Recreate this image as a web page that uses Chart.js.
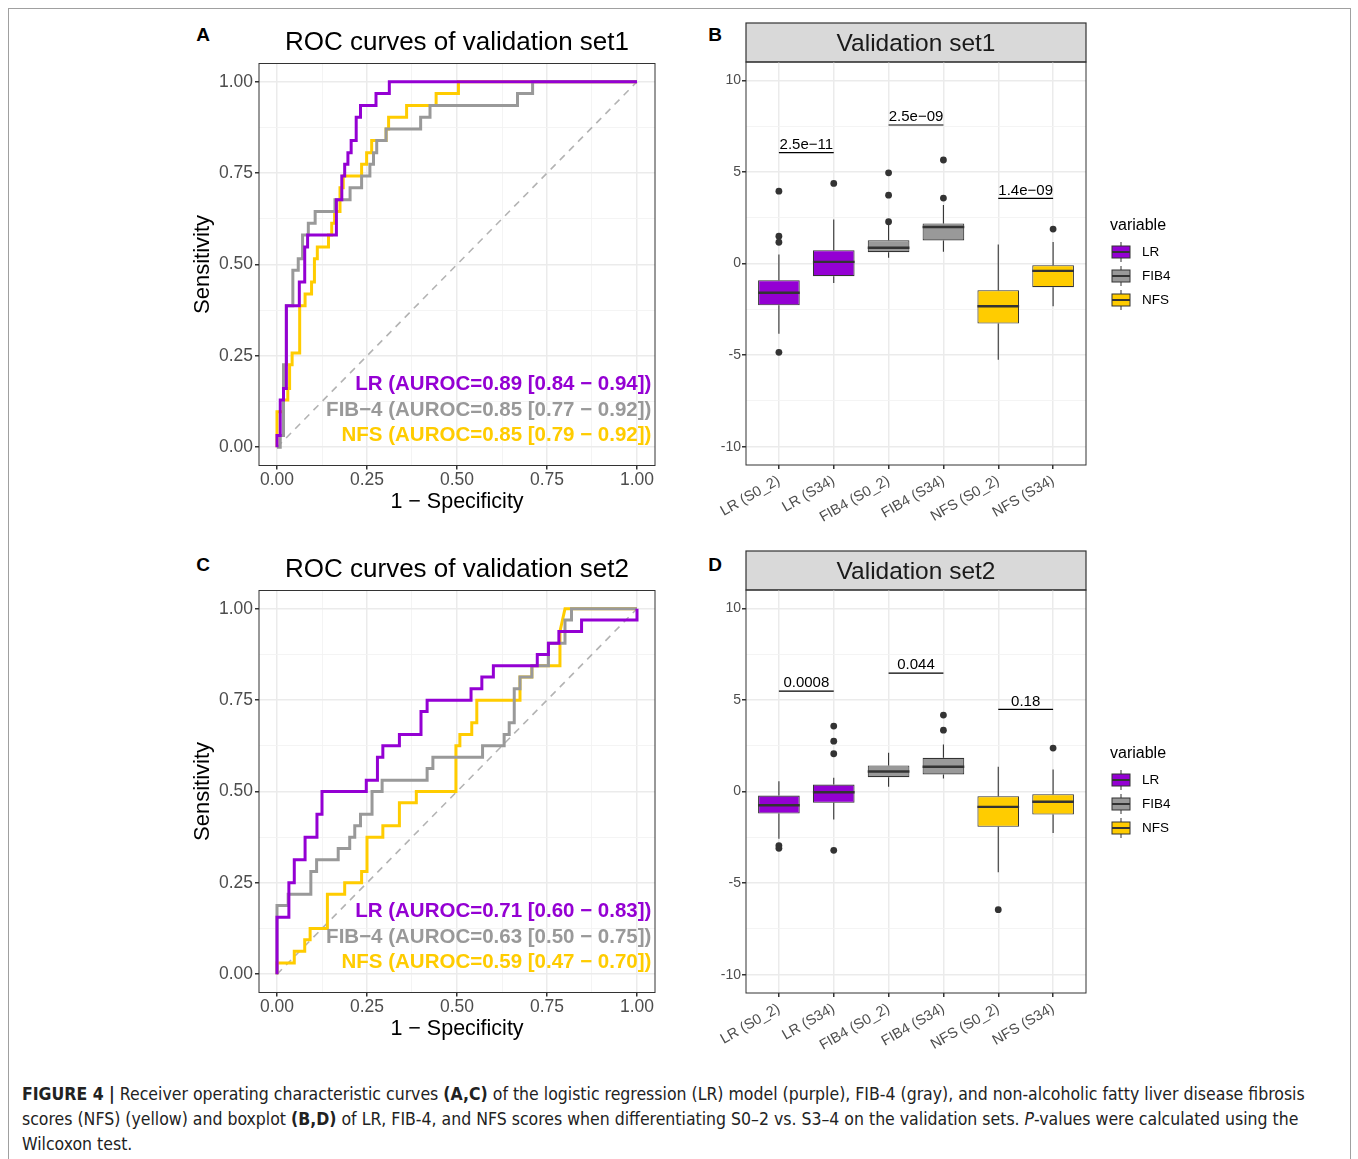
<!DOCTYPE html>
<html>
<head>
<meta charset="utf-8">
<script src="https://cdn.jsdelivr.net/npm/chart.js@4.4.1/dist/chart.umd.min.js"></script>
<style>
body { margin: 0; background: #fff; font-family: 'Liberation Sans', Arial, sans-serif; }
#page { position: relative; width: 1358px; height: 1159px; overflow: hidden; background: #fff; }
#frame { position: absolute; left: 8px; top: 8px; width: 1341px; height: 1220px; border: 1px solid #a0a0a0; }
canvas { position: absolute; }
.tag { position: absolute; font-weight: bold; font-size: 19px; width: 20px; text-align: center; line-height: 20px; }
#caption { position: absolute; left: 22px; top: 1082px; font-family: 'Liberation Sans Narrow', 'DejaVu Sans Condensed', sans-serif; font-size: 17.5px; line-height: 25px; color: #222; white-space: nowrap; }
</style>
</head>
<body>
<div id="page">
  <div id="frame"></div>
  <div class="tag" style="left:193px;top:25px">A</div>
  <div class="tag" style="left:705px;top:25px">B</div>
  <div class="tag" style="left:193px;top:555px">C</div>
  <div class="tag" style="left:705px;top:555px">D</div>
  <canvas id="rocA" width="480" height="510" style="left:185px;top:15px"></canvas>
  <canvas id="boxB" width="520" height="525" style="left:690px;top:15px"></canvas>
  <canvas id="rocC" width="480" height="510" style="left:185px;top:542px"></canvas>
  <canvas id="boxD" width="520" height="525" style="left:690px;top:543px"></canvas>
  <div id="caption"><b>FIGURE 4 |</b> Receiver operating characteristic curves <b>(A,C)</b> of the logistic regression (LR) model (purple), FIB-4 (gray), and non-alcoholic fatty liver disease fibrosis<br>scores (NFS) (yellow) and boxplot <b>(B,D)</b> of LR, FIB-4, and NFS scores when differentiating S0–2 vs. S3–4 on the validation sets. <i>P</i>-values were calculated using the<br>Wilcoxon test.</div>
</div>
<script>
// ---- ROC data, validation set1 ----
var lrFpr1 = [0,0,0.009,0.009,0.018,0.018,0.026,0.026,0.062,0.062,0.077,0.077,0.085,0.085,0.165,0.165,0.18,0.18,0.188,0.188,0.197,0.197,0.206,0.206,0.22,0.22,0.232,0.232,0.275,0.275,0.312,0.312,1];
var lrTpr1 = [0,0.032,0.032,0.129,0.129,0.161,0.161,0.387,0.387,0.452,0.452,0.548,0.548,0.581,0.581,0.677,0.677,0.742,0.742,0.774,0.774,0.806,0.806,0.839,0.839,0.903,0.903,0.935,0.935,0.968,0.968,1,1];
var fibFpr1 = [0,0.009,0.009,0.018,0.018,0.026,0.026,0.044,0.044,0.059,0.059,0.071,0.071,0.087,0.087,0.106,0.106,0.161,0.161,0.203,0.203,0.235,0.235,0.258,0.258,0.268,0.268,0.277,0.277,0.303,0.303,0.399,0.399,0.425,0.425,0.668,0.668,0.71,0.71,1];
var fibTpr1 = [0,0,0.032,0.032,0.226,0.226,0.387,0.387,0.484,0.484,0.516,0.516,0.581,0.581,0.613,0.613,0.645,0.645,0.677,0.677,0.71,0.71,0.742,0.742,0.774,0.774,0.806,0.806,0.839,0.839,0.871,0.871,0.903,0.903,0.935,0.935,0.968,0.968,1,1];
var nfsFpr1 = [0,0,0.018,0.018,0.03,0.03,0.035,0.035,0.042,0.042,0.063,0.063,0.078,0.078,0.096,0.096,0.104,0.104,0.112,0.112,0.143,0.143,0.152,0.152,0.16,0.16,0.175,0.175,0.184,0.184,0.235,0.235,0.249,0.249,0.263,0.263,0.303,0.303,0.31,0.31,0.36,0.36,0.442,0.442,0.504,0.504,1];
var nfsTpr1 = [0,0.097,0.097,0.129,0.129,0.161,0.161,0.226,0.226,0.258,0.258,0.387,0.387,0.419,0.419,0.452,0.452,0.516,0.516,0.548,0.548,0.581,0.581,0.613,0.613,0.645,0.645,0.71,0.71,0.742,0.742,0.774,0.774,0.806,0.806,0.839,0.839,0.871,0.871,0.903,0.903,0.935,0.935,0.968,0.968,1,1];
var aurocText1 = ['LR (AUROC=0.89 [0.84 − 0.94])', 'FIB−4 (AUROC=0.85 [0.77 − 0.92])', 'NFS (AUROC=0.85 [0.79 − 0.92])'];

// ---- ROC data, validation set2 ----
var lrFpr2 = [0,0,0.033,0.033,0.048,0.048,0.078,0.078,0.111,0.111,0.125,0.125,0.248,0.248,0.279,0.279,0.294,0.294,0.34,0.34,0.4,0.4,0.417,0.417,0.539,0.539,0.569,0.569,0.601,0.601,0.723,0.723,0.754,0.754,0.783,0.783,0.846,0.846,1,1];
var lrTpr2 = [0,0.156,0.156,0.25,0.25,0.313,0.313,0.375,0.375,0.438,0.438,0.5,0.5,0.531,0.531,0.594,0.594,0.625,0.625,0.656,0.656,0.719,0.719,0.75,0.75,0.781,0.781,0.813,0.813,0.844,0.844,0.875,0.875,0.906,0.906,0.938,0.938,0.969,0.969,1];
var fibFpr2 = [0,0,0.031,0.031,0.094,0.094,0.11,0.11,0.17,0.17,0.202,0.202,0.216,0.216,0.232,0.232,0.264,0.264,0.292,0.292,0.417,0.417,0.433,0.433,0.571,0.571,0.631,0.631,0.645,0.645,0.659,0.659,0.675,0.675,0.708,0.708,0.754,0.754,0.8,0.8,0.818,0.818,1];
var fibTpr2 = [0,0.188,0.188,0.219,0.219,0.281,0.281,0.313,0.313,0.344,0.344,0.375,0.375,0.406,0.406,0.438,0.438,0.5,0.5,0.531,0.531,0.563,0.563,0.594,0.594,0.625,0.625,0.656,0.656,0.688,0.688,0.781,0.781,0.813,0.813,0.844,0.844,0.906,0.906,0.969,0.969,1,1];
var nfsFpr2 = [0,0,0.048,0.048,0.077,0.077,0.092,0.092,0.14,0.14,0.188,0.188,0.235,0.235,0.25,0.25,0.294,0.294,0.34,0.34,0.387,0.387,0.497,0.497,0.508,0.508,0.541,0.541,0.555,0.555,0.675,0.675,0.708,0.708,0.786,0.786,0.8,1];
var nfsTpr2 = [0,0.031,0.031,0.063,0.063,0.094,0.094,0.125,0.125,0.219,0.219,0.25,0.25,0.281,0.281,0.375,0.375,0.406,0.406,0.469,0.469,0.5,0.5,0.625,0.625,0.656,0.656,0.688,0.688,0.75,0.75,0.813,0.813,0.844,0.844,0.938,1,1];
var aurocText2 = ['LR (AUROC=0.71 [0.60 − 0.83])', 'FIB−4 (AUROC=0.63 [0.50 − 0.75])', 'NFS (AUROC=0.59 [0.47 − 0.70])'];

var rocTicks = [0, 0.125, 0.25, 0.375, 0.5, 0.625, 0.75, 0.875, 1];
var rocTickLabels = ['0.00', '', '0.25', '', '0.50', '', '0.75', '', '1.00'];

// ---- boxplot data ----
var boxCats = ['LR (S0_2)', 'LR (S34)', 'FIB4 (S0_2)', 'FIB4 (S34)', 'NFS (S0_2)', 'NFS (S34)'];
var boxTicks = [-10, -7.5, -5, -2.5, 0, 2.5, 5, 7.5, 10];
var boxTickLabels = ['-10', '', '-5', '', '0', '', '5', '', '10'];
var legendNames = ['LR', 'FIB4', 'NFS'];

var low1 = [-3.84, -1.06, 0.31, 0.64, -5.25, -2.33];
var q1s1 = [-2.28, -0.69, 0.62, 1.26, -3.28, -1.29];
var med1 = [-1.6, 0.09, 0.86, 1.99, -2.33, -0.4];
var q3s1 = [-0.91, 0.73, 1.27, 2.19, -1.46, -0.09];
var high1 = [0.49, 2.4, 2.13, 3.19, 1.04, 1.17];
var out1 = [[3.95, 1.49, 1.16, -4.85], [4.37], [4.95, 3.73, 2.28], [5.65, 3.57], [], [1.88]];
var pLabels1 = ['2.5e−11', '2.5e−09', '1.4e−09'];
var pLineY1 = [6.05, 7.56, 3.55];

var low2 = [-2.58, -1.53, 0.26, 0.71, -4.41, -2.26];
var q1s2 = [-1.2, -0.62, 0.78, 0.93, -1.93, -1.26];
var med2 = [-0.75, -0.04, 1.09, 1.35, -0.84, -0.56];
var q3s2 = [-0.22, 0.38, 1.42, 1.84, -0.26, -0.15];
var high2 = [0.56, 0.75, 2.11, 2.57, 1.35, 1.2];
var out2 = [[-2.95, -3.1], [3.57, 2.75, 2.06, -3.21], [], [4.17, 3.35], [-6.45], [2.37]];
var pLabels2 = ['0.0008', '0.044', '0.18'];
var pLineY2 = [5.48, 6.46, 4.48];
var pPairs = [[0, 1], [2, 3], [4, 5]];

var PURPLE = '#9400D3', GRAY = '#999999', GOLD = '#FFCC00';
var boxColors = [PURPLE, PURPLE, GRAY, GRAY, GOLD, GOLD];

Chart.defaults.font.family = "'Liberation Sans', Arial, sans-serif";

function zip(xs, ys) {
    return xs.map(function (v, i) { return {x: v, y: ys[i]}; });
}

function rocPlugin(texts) {
    return {
        id: 'rocExtras',
        afterDraw: function (chart) {
            var ctx = chart.ctx, a = chart.chartArea;
            var x = chart.scales.x, y = chart.scales.y;
            var cols = [PURPLE, GRAY, GOLD];
            var ys = [0.172, 0.102, 0.033];
            ctx.save();
            ctx.font = "bold 20.5px 'Liberation Sans', Arial, sans-serif";
            ctx.textAlign = 'right';
            ctx.textBaseline = 'middle';
            texts.forEach(function (t, i) {
                ctx.fillStyle = cols[i];
                ctx.fillText(t, x.getPixelForValue(1.04), y.getPixelForValue(ys[i]));
            });
            ctx.strokeStyle = '#333';
            ctx.lineWidth = 1;
            ctx.strokeRect(a.left, a.top, a.right - a.left, a.bottom - a.top);
            ctx.restore();
        }
    };
}

function rocChart(id, title, lr, fib, nfs, texts) {
    var grid = {
        color: function (c) { return c.index % 2 === 0 ? '#ebebeb' : '#f3f3f3'; },
        lineWidth: function (c) { return c.index % 2 === 0 ? 1.5 : 0.9; },
        tickColor: function (c) { return c.index % 2 === 0 ? '#333' : 'rgba(0,0,0,0)'; },
        tickLength: 4
    };
    new Chart(document.getElementById(id), {
        type: 'scatter',
        data: {
            datasets: [
                {data: lr, showLine: true, borderColor: PURPLE, borderWidth: 3, pointRadius: 0},
                {data: fib, showLine: true, borderColor: GRAY, borderWidth: 3, pointRadius: 0},
                {data: nfs, showLine: true, borderColor: GOLD, borderWidth: 3, pointRadius: 0},
                {data: [{x: 0, y: 0}, {x: 1, y: 1}], showLine: true, borderColor: '#b3b3b3', borderWidth: 1.6, borderDash: [7, 6], pointRadius: 0}
            ]
        },
        options: {
            responsive: false,
            animation: false,
            events: [],
            layout: {padding: {right: 10}},
            plugins: {
                legend: {display: false},
                tooltip: {enabled: false},
                title: {display: true, text: title, fullSize: false, color: '#000', font: {size: 26, weight: 'normal'}, padding: {top: 12.4, bottom: 4.9}}
            },
            scales: {
                x: {
                    type: 'linear', min: -0.05, max: 1.05,
                    afterBuildTicks: function (s) { s.ticks = rocTicks.map(function (v) { return {value: v}; }); },
                    afterFit: function (s) { s.height = 59.5; },
                    ticks: {autoSkip: false, maxRotation: 0, color: '#4d4d4d', font: {size: 17.5, lineHeight: 1}, padding: 1.5,
                        callback: function (v, i) { return rocTickLabels[i]; }},
                    grid: grid,
                    border: {display: false},
                    title: {display: true, text: '1 − Specificity', color: '#000', font: {size: 21.5}, padding: {bottom: 10.5}}
                },
                y: {
                    type: 'linear', min: -0.05, max: 1.05,
                    afterBuildTicks: function (s) { s.ticks = rocTicks.map(function (v) { return {value: v}; }); },
                    afterFit: function (s) { s.width = 74; },
                    ticks: {autoSkip: false, color: '#4d4d4d', font: {size: 17.5}, padding: 2,
                        callback: function (v, i) { return rocTickLabels[i]; }},
                    grid: grid,
                    border: {display: false},
                    title: {display: true, text: 'Sensitivity', color: '#000', font: {size: 22}, padding: {top: 4.8}}
                }
            }
        },
        plugins: [rocPlugin(texts)]
    });
}

function boxPlugin(low, q1, med, q3, high, pLines, pLabels) {
    return {
        id: 'boxExtras',
        beforeDraw: function (chart) {
            // strip header
            var ctx = chart.ctx, a = chart.chartArea;
            ctx.save();
            ctx.fillStyle = '#d9d9d9';
            ctx.fillRect(a.left, 8, a.right - a.left, a.top - 8);
            ctx.strokeStyle = '#333';
            ctx.lineWidth = 1.2;
            ctx.strokeRect(a.left, 8, a.right - a.left, a.top - 8);
            ctx.restore();
        },
        beforeDatasetsDraw: function (chart) {
            var ctx = chart.ctx, x = chart.scales.x, y = chart.scales.y;
            ctx.save();
            ctx.strokeStyle = '#333';
            ctx.lineWidth = 1.1;
            for (var i = 0; i < low.length; i++) {
                var px = x.getPixelForValue(i);
                ctx.beginPath();
                ctx.moveTo(px, y.getPixelForValue(high[i]));
                ctx.lineTo(px, y.getPixelForValue(q3[i]));
                ctx.moveTo(px, y.getPixelForValue(q1[i]));
                ctx.lineTo(px, y.getPixelForValue(low[i]));
                ctx.stroke();
            }
            ctx.restore();
        },
        afterDatasetsDraw: function (chart) {
            var ctx = chart.ctx, x = chart.scales.x, y = chart.scales.y, a = chart.chartArea;
            var bars = chart.getDatasetMeta(1).data;
            ctx.save();
            ctx.strokeStyle = '#333';
            ctx.lineWidth = 2.4;
            for (var i = 0; i < med.length; i++) {
                var b = bars[i], py = y.getPixelForValue(med[i]);
                ctx.beginPath();
                ctx.moveTo(b.x - b.width / 2, py);
                ctx.lineTo(b.x + b.width / 2, py);
                ctx.stroke();
            }
            // p-value brackets
            ctx.lineWidth = 1.2;
            ctx.strokeStyle = '#000';
            ctx.fillStyle = '#000';
            ctx.font = "15px 'Liberation Sans', Arial, sans-serif";
            ctx.textAlign = 'center';
            ctx.textBaseline = 'middle';
            pPairs.forEach(function (p, k) {
                var x0 = x.getPixelForValue(p[0]), x1 = x.getPixelForValue(p[1]);
                var py = y.getPixelForValue(pLines[k]);
                ctx.beginPath();
                ctx.moveTo(x0, py);
                ctx.lineTo(x1, py);
                ctx.stroke();
                ctx.fillText(pLabels[k], (x0 + x1) / 2, py - 8);
            });
            // panel border
            ctx.strokeStyle = '#333';
            ctx.lineWidth = 1;
            ctx.strokeRect(a.left, a.top, a.right - a.left, a.bottom - a.top);
            ctx.restore();
        },
        afterDraw: function (chart) {
            // legend
            var ctx = chart.ctx, a = chart.chartArea;
            var lx = a.right + 24, ly = 211;
            ctx.save();
            ctx.fillStyle = '#000';
            ctx.font = "16px 'Liberation Sans', Arial, sans-serif";
            ctx.textAlign = 'left';
            ctx.textBaseline = 'middle';
            ctx.fillText('variable', lx, ly);
            var cols = [PURPLE, GRAY, GOLD];
            legendNames.forEach(function (n, i) {
                var cy = ly + 26 + i * 24;
                ctx.strokeStyle = '#333';
                ctx.lineWidth = 1;
                ctx.beginPath();
                ctx.moveTo(lx + 11, cy - 10);
                ctx.lineTo(lx + 11, cy + 10);
                ctx.stroke();
                ctx.fillStyle = cols[i];
                ctx.fillRect(lx + 2, cy - 6, 18, 12);
                ctx.strokeRect(lx + 2, cy - 6, 18, 12);
                ctx.lineWidth = 2;
                ctx.beginPath();
                ctx.moveTo(lx + 2, cy);
                ctx.lineTo(lx + 20, cy);
                ctx.stroke();
                ctx.fillStyle = '#000';
                ctx.font = "13.5px 'Liberation Sans', Arial, sans-serif";
                ctx.fillText(n, lx + 32, cy);
            });
            ctx.restore();
        }
    };
}

function boxChart(id, title, low, q1, med, q3, high, outl, pLines, pLabels) {
    var boxes = q1.map(function (v, i) { return {x: i, y: [v, q3[i]]}; });
    var outliers = [];
    outl.forEach(function (list, i) {
        list.forEach(function (v) { outliers.push({x: i, y: v}); });
    });
    new Chart(document.getElementById(id), {
        type: 'bar',
        data: {
            datasets: [
                {type: 'scatter', data: outliers, backgroundColor: '#333', borderWidth: 0, pointRadius: 3.4},
                {data: boxes, backgroundColor: boxColors, borderColor: '#333', borderWidth: 1.1, borderSkipped: false,
                    categoryPercentage: 1, barPercentage: 0.76}
            ]
        },
        options: {
            responsive: false,
            animation: false,
            events: [],
            layout: {padding: {right: 124}},
            plugins: {
                legend: {display: false},
                tooltip: {enabled: false},
                title: {display: true, text: title, fullSize: false, color: '#1a1a1a', font: {size: 24.5, weight: 'normal'}, padding: {top: 14.5, bottom: 3.1}}
            },
            scales: {
                x: {
                    type: 'linear', min: -0.6, max: 5.6, offset: false,
                    afterBuildTicks: function (s) { s.ticks = boxCats.map(function (c, i) { return {value: i}; }); },
                    afterFit: function (s) { s.height = 75; },
                    ticks: {autoSkip: false, minRotation: 30, maxRotation: 30, color: '#4d4d4d', font: {size: 14.5}, padding: 3,
                        callback: function (v, i) { return boxCats[i]; }},
                    grid: {offset: false, color: '#ebebeb', lineWidth: 1.5, tickColor: '#333', tickLength: 4},
                    border: {display: false}
                },
                y: {
                    type: 'linear', min: -11, max: 11,
                    afterBuildTicks: function (s) { s.ticks = boxTicks.map(function (v) { return {value: v}; }); },
                    afterFit: function (s) { s.width = 56; },
                    ticks: {autoSkip: false, color: '#4d4d4d', font: {size: 14}, padding: 1,
                        callback: function (v, i) { return boxTickLabels[i]; }},
                    grid: {
                        color: function (c) { return c.index % 2 === 0 ? '#ebebeb' : '#f3f3f3'; },
                        lineWidth: function (c) { return c.index % 2 === 0 ? 1.5 : 0.9; },
                        tickColor: function (c) { return c.index % 2 === 0 ? '#333' : 'rgba(0,0,0,0)'; },
                        tickLength: 4
                    },
                    border: {display: false}
                }
            }
        },
        plugins: [boxPlugin(low, q1, med, q3, high, pLines, pLabels)]
    });
}

rocChart('rocA', 'ROC curves of validation set1', zip(lrFpr1, lrTpr1), zip(fibFpr1, fibTpr1), zip(nfsFpr1, nfsTpr1), aurocText1);
rocChart('rocC', 'ROC curves of validation set2', zip(lrFpr2, lrTpr2), zip(fibFpr2, fibTpr2), zip(nfsFpr2, nfsTpr2), aurocText2);
boxChart('boxB', 'Validation set1', low1, q1s1, med1, q3s1, high1, out1, pLineY1, pLabels1);
boxChart('boxD', 'Validation set2', low2, q1s2, med2, q3s2, high2, out2, pLineY2, pLabels2);
</script>
</body>
</html>
